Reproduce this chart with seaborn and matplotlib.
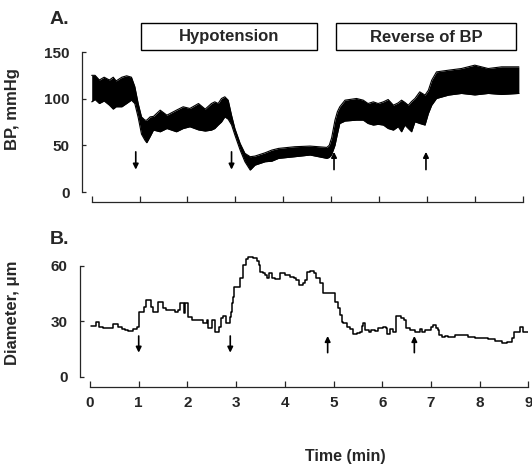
import numpy as np
import pandas as pd
import seaborn as sns
import matplotlib.pyplot as plt
from matplotlib.patches import Rectangle

# Panel A: edges of the pulsatile blood pressure trace (min, mmHg)
bp_time = [0.00, 0.07, 0.16, 0.26, 0.37, 0.45, 0.51, 0.63, 0.73, 0.83,
           0.90, 0.97, 1.04, 1.11, 1.15, 1.22, 1.29, 1.43, 1.57, 1.77,
           1.91, 2.05, 2.23, 2.37, 2.50, 2.57, 2.64, 2.71, 2.78, 2.85,
           2.92, 2.99, 3.10, 3.20, 3.31, 3.41, 3.62, 3.76, 3.90, 4.24,
           4.56, 4.91, 4.96, 5.01, 5.08, 5.13, 5.18, 5.29, 5.53, 5.67,
           5.77, 5.88, 5.98, 6.09, 6.19, 6.30, 6.40, 6.47, 6.54, 6.61,
           6.68, 6.75, 6.85, 6.96, 7.03, 7.10, 7.20, 7.45, 7.72, 8.00,
           8.28, 8.56, 8.92]
bp_upper = [125, 125, 120, 123, 120, 123, 119, 123, 124.5, 123,
            113, 95, 80.5, 77, 77, 80.5, 81, 87.7, 82.3, 87.7,
            91.3, 89.5, 94.8, 88.8, 94.8, 96.6, 94.8, 100.2, 102, 98.4,
            82.3, 68, 52, 41.4, 37.8, 38.5, 42, 44.9, 46.7, 48.5,
            49.2, 47.8, 50, 58, 77, 86, 91.3, 98.4, 100.2, 98.4,
            94.8, 96.6, 94.8, 96.6, 99.1, 93, 95.5, 98.4, 96, 93,
            97, 100.2, 107.3, 103.8, 109, 119.8, 128.7, 130.5, 132.3, 135.9,
            132.3, 134.1, 134.1]
bp_lower = [96.6, 99.1, 94.8, 97.5, 93, 88.8, 91.3, 91.3, 94.8, 98.4,
            94.8, 80, 62, 55.6, 52.8, 59.3, 66.3, 64.5, 68, 64.5,
            68, 69.9, 66.5, 65.3, 66.3, 68, 71.7, 75, 80.5, 78,
            72, 61, 44.9, 32.4, 23.5, 28.8, 32.4, 33, 36, 37.8,
            39.6, 36, 37, 40, 50, 62, 73.4, 76, 77, 77,
            73.4, 71.7, 72.5, 71.7, 68, 66.3, 70, 64.5, 71.7, 68,
            64.5, 75.2, 73.4, 71.7, 84.1, 93, 100.2, 103.8, 105.6, 104,
            105.6, 104.5, 105.6]

# Panel B: vessel diameter (min, um), step trace
diam_time = [0.03, 0.12, 0.18, 0.27, 0.48, 0.58, 0.65, 0.72, 0.79, 0.89,
             0.96, 1.00, 1.10, 1.16, 1.25, 1.30, 1.40, 1.49, 1.57, 1.75,
             1.81, 1.85, 1.92, 1.95, 2.01, 2.09, 2.33, 2.40, 2.43, 2.50,
             2.57, 2.64, 2.70, 2.74, 2.80, 2.88, 2.90, 2.92, 2.94, 2.96,
             3.08, 3.15, 3.20, 3.25, 3.35, 3.42, 3.46, 3.49, 3.56, 3.59,
             3.64, 3.68, 3.73, 3.80, 3.90, 4.00, 4.11, 4.19, 4.24, 4.30,
             4.38, 4.42, 4.46, 4.52, 4.59, 4.65, 4.72, 4.78, 5.03, 5.10,
             5.13, 5.17, 5.20, 5.27, 5.34, 5.41, 5.48, 5.54, 5.58, 5.61,
             5.65, 5.72, 5.78, 5.85, 5.92, 6.02, 6.07, 6.09, 6.16, 6.23,
             6.28, 6.39, 6.45, 6.48, 6.57, 6.67, 6.78, 6.82, 6.88, 6.95,
             7.01, 7.05, 7.10, 7.14, 7.17, 7.22, 7.29, 7.36, 7.50, 7.77,
             7.91, 8.18, 8.32, 8.45, 8.56, 8.66, 8.71, 8.80, 8.83, 8.90,
             8.97, 9.00]
diam_um = [27.4, 29.7, 27.0, 26.2, 28.6, 27.0, 25.8, 25.0, 24.9, 25.8,
           26.7, 35.1, 37.9, 41.5, 37.9, 35.1, 40.6, 37.0, 36.1, 35.1,
           36.1, 39.7, 34.2, 39.7, 32.4, 30.6, 29.2, 30.6, 26.2, 30.6,
           24.4, 27.0, 31.5, 33.0, 29.0, 32.4, 35.1, 39.7, 43.3, 48.7,
           53.2, 60.4, 63.4, 64.5, 64.0, 62.4, 60.4, 56.8, 55.9, 55.0,
           53.2, 55.9, 53.2, 52.6, 55.9, 55.0, 54.1, 53.5, 52.3, 49.6,
           50.5, 52.3, 56.8, 57.4, 56.3, 53.2, 50.5, 45.1, 40.6, 37.0,
           33.3, 29.7, 28.8, 27.0, 25.6, 22.9, 23.8, 24.4, 27.4, 29.2,
           25.3, 24.4, 25.3, 24.9, 26.2, 27.0, 26.2, 22.9, 25.6, 24.0,
           33.0, 31.5, 30.6, 26.2, 25.3, 24.4, 25.8, 24.4, 25.0, 25.3,
           27.0, 27.9, 26.2, 25.3, 22.5, 21.7, 22.1, 21.7, 22.5, 21.7,
           21.1, 20.2, 19.5, 18.4, 19.0, 21.1, 24.2, 24.0, 26.6, 24.2,
           24.0, 24.0]

# drug on / off markers
arrow_times_a = [0.92, 2.92, 5.06, 6.98]
arrow_times_b = [1.00, 2.88, 4.88, 6.66]
arrow_dirs = ['down', 'down', 'up', 'up']

x_ticks = list(range(10))
x_labels = [str(t) for t in x_ticks]
bp_ticks = [0, 50, 100, 150]
diam_ticks = [0, 30, 60]

sns.set_style('ticks')
plt.rcParams['font.family'] = ['Liberation Sans', 'DejaVu Sans']
plt.rcParams['font.weight'] = 'bold'

W, H = 532, 465
fig = plt.figure(figsize=(W / 100, H / 100), dpi=100)


def box(x0, y0, x1, y1):
    # pixel box (top-left origin) -> figure fraction rect
    return [x0 / W, 1 - y1 / H, (x1 - x0) / W, (y1 - y0) / H]


def style_axes(ax, yticks):
    sns.despine(ax=ax)
    ax.spines['bottom'].set_position(('outward', 7.2))
    ax.spines['bottom'].set_bounds(0, 9)
    ax.spines['left'].set_bounds(0, yticks[-1])
    for s in ['bottom', 'left']:
        ax.spines[s].set_linewidth(0.9)
    ax.set_yticks(yticks)
    ax.set_xticks(x_ticks)
    ax.tick_params(axis='y', direction='in', length=3, width=0.9, pad=9, labelsize=11)
    ax.tick_params(axis='x', direction='in', length=4, width=0.9, pad=7, labelsize=11)


def draw_arrows(ax, times, y_lo, y_hi):
    for t, d in zip(times, arrow_dirs):
        head, tail = (y_lo, y_hi) if d == 'down' else (y_hi, y_lo)
        ax.annotate('', xy=(t, head), xytext=(t, tail),
                    arrowprops=dict(arrowstyle='-|>', color='black', lw=1.2,
                                    mutation_scale=8, shrinkA=0, shrinkB=0))


# ---- panel A ----
ax_a = fig.add_axes(box(82, 52, 522.7, 192))
bp = pd.DataFrame({'time': bp_time, 'upper': bp_upper, 'lower': bp_lower})
ax_a.fill_between(bp['time'], bp['lower'], bp['upper'], color='black', lw=0)
sns.lineplot(data=bp, x='time', y='upper', ax=ax_a, color='black', lw=0.8, estimator=None)
sns.lineplot(data=bp, x='time', y='lower', ax=ax_a, color='black', lw=0.8, estimator=None)
ax_a.set_xlim((82 - 91.7) / 47.9, 9)
ax_a.set_ylim(0, 150)
style_axes(ax_a, bp_ticks)
ax_a.set_xticklabels([])
ax_a.set_xlabel('')
ax_a.set_ylabel('BP, mmHg', fontsize=12, fontweight='bold')
ax_a.yaxis.set_label_coords(-0.157, 0.59)
ax_a.yaxis.label.set_va('center')
draw_arrows(ax_a, arrow_times_a, 24, 43)

# ---- panel B ----
ax_b = fig.add_axes(box(80, 254.6, 528.3, 376.7))
diam = pd.DataFrame({'time': diam_time, 'diameter': diam_um})
sns.lineplot(data=diam, x='time', y='diameter', ax=ax_b, color='black', lw=1.1,
             estimator=None, drawstyle='steps-post')
ax_b.set_xlim((80 - 90) / 48.7, 9)
ax_b.set_ylim(0, 66)
style_axes(ax_b, diam_ticks)
ax_b.set_xticklabels(x_labels)
ax_b.set_ylabel('Diameter, μm', fontsize=12, fontweight='bold')
ax_b.yaxis.set_label_coords(-0.151, 0.52)
ax_b.yaxis.label.set_va('center')
ax_b.set_xlabel('Time (min)', fontsize=11.5, fontweight='bold')
ax_b.xaxis.set_label_coords(0.591, -0.65)
ax_b.xaxis.label.set_va('center')
draw_arrows(ax_b, arrow_times_b, 13, 22)

# ---- panel letters and condition boxes ----
fig.text(50 / W, 1 - 20 / H, 'A.', fontsize=14, fontweight='bold', va='center')
fig.text(50 / W, 1 - 239 / H, 'B.', fontsize=14, fontweight='bold', va='center')
for (x0, x1, label) in [(141, 317, 'Hypotension'), (336, 516, 'Reverse of BP')]:
    fig.patches.append(Rectangle((x0 / W, 1 - 50 / H), (x1 - x0) / W, 27 / H,
                                 transform=fig.transFigure, fill=False,
                                 edgecolor='black', lw=1.0))
    fig.text((x0 + x1) / 2 / W, 1 - 37 / H, label, fontsize=12,
             fontweight='bold', ha='center', va='center')

fig.savefig('out.png', dpi=100)
